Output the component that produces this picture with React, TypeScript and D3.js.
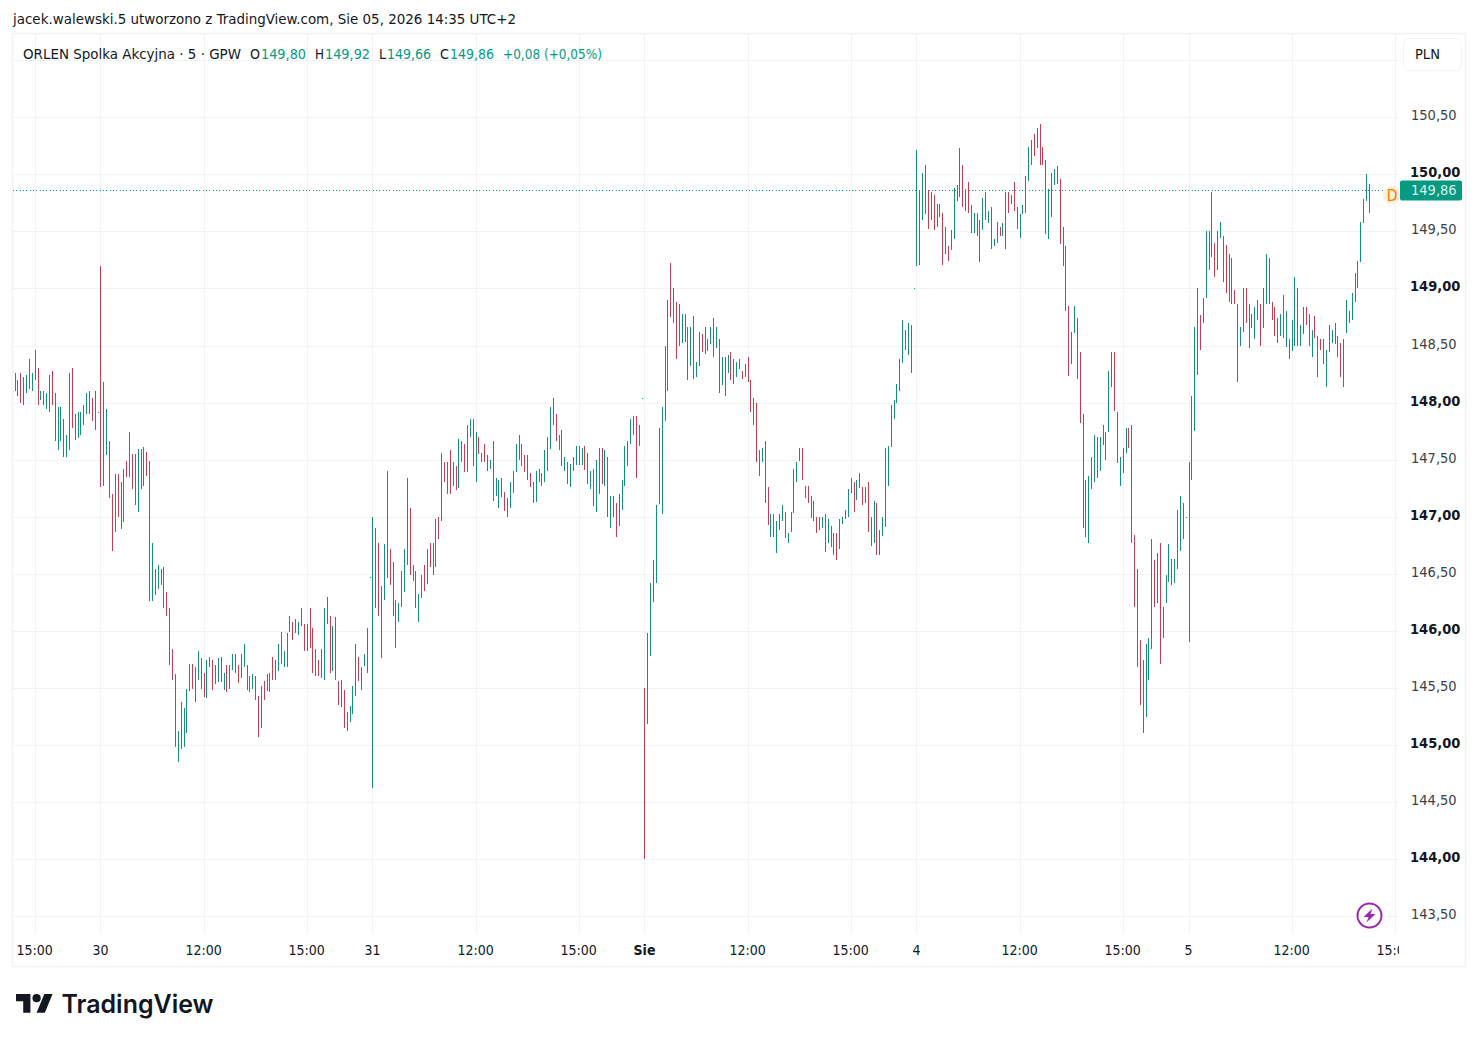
import React, { useRef, useEffect } from "react";
import * as d3 from "d3";

// 5 min bars, left to right
const highs = [
  148.26,148.20,148.26,148.22,148.24,148.38,148.26,148.46,148.30,148.10,
  148.10,148.08,148.24,148.28,148.08,147.96,147.96,147.86,147.72,148.26,
  148.30,147.90,147.92,147.92,147.98,148.08,148.10,148.04,148.10,147.92,
  149.20,148.18,147.94,147.66,147.20,147.37,147.37,147.30,147.42,147.49,
  147.74,147.55,147.55,147.59,147.59,147.61,147.57,147.49,146.77,146.54,
  146.58,146.54,146.56,146.34,146.20,145.84,145.62,145.12,145.38,145.32,
  145.49,145.71,145.71,145.68,145.82,145.76,145.63,145.74,145.77,145.74,
  145.70,145.76,145.77,145.63,145.70,145.70,145.80,145.80,145.70,145.80,
  145.88,145.70,145.60,145.62,145.60,145.43,145.52,145.56,145.62,145.63,
  145.77,145.74,145.88,145.99,145.82,145.98,146.13,146.08,146.10,146.08,
  146.20,146.06,146.06,146.20,146.02,145.84,145.74,145.84,146.20,146.30,
  146.13,146.04,146.12,145.56,145.57,145.48,145.29,145.34,145.52,145.88,
  145.77,145.68,145.80,146.02,146.47,147.00,146.90,146.77,146.39,146.76,
  147.40,146.72,146.60,146.27,146.24,146.52,146.72,147.34,147.08,146.58,
  146.52,146.32,146.49,146.58,146.72,146.77,146.77,146.98,147.00,147.56,
  147.48,147.48,147.58,147.48,147.44,147.68,147.66,147.64,147.80,147.86,
  147.86,147.74,147.70,147.56,147.64,147.54,147.50,147.66,147.34,147.32,
  147.34,147.22,147.16,147.30,147.40,147.64,147.72,147.64,147.54,147.54,
  147.38,147.30,147.40,147.42,147.38,147.58,147.70,147.96,148.04,147.90,
  147.72,147.76,147.52,147.48,147.46,147.52,147.62,147.62,147.60,147.62,
  147.56,147.40,147.42,147.50,147.60,147.60,147.58,147.52,147.18,147.18,
  147.12,147.20,147.32,147.62,147.66,147.86,147.88,147.88,147.80,148.04,
  145.50,145.98,146.42,146.62,147.10,147.78,147.96,148.50,148.90,149.22,
  149.00,148.88,148.86,148.78,148.78,148.66,148.66,148.76,148.36,148.62,
  148.60,148.66,148.56,148.66,148.74,148.66,148.56,148.40,148.40,148.42,
  148.44,148.38,148.36,148.38,148.28,148.34,148.40,148.20,148.04,148.00,
  147.58,147.60,147.66,147.26,147.02,147.02,146.96,147.02,147.10,147.04,
  146.86,147.04,147.42,147.48,147.60,147.60,147.27,147.27,147.18,147.14,
  147.00,147.00,147.00,147.02,146.98,146.92,146.86,146.86,146.98,147.00,
  147.06,147.24,147.34,147.30,147.32,147.38,147.26,147.26,147.30,147.00,
  147.14,147.12,146.88,147.00,147.60,147.62,147.98,148.02,148.16,148.38,
  148.72,148.64,148.70,148.68,149.00,150.21,149.86,150.01,150.08,149.86,
  149.85,149.82,149.74,149.74,149.66,149.54,149.37,149.51,149.88,149.91,
  150.23,150.08,149.87,149.93,149.73,149.66,149.66,149.60,149.79,149.85,
  149.68,149.71,149.43,149.58,149.54,149.57,149.85,149.85,149.82,149.93,
  149.71,149.65,149.73,149.99,150.24,150.30,150.35,150.41,150.44,150.24,
  150.13,149.87,150.01,150.05,150.07,149.96,149.54,149.37,148.85,148.62,
  148.85,148.74,148.44,147.90,147.32,147.36,147.52,147.72,147.70,147.70,
  147.80,147.74,148.28,148.44,148.44,147.92,147.52,147.60,147.78,147.78,
  147.80,146.84,146.54,145.92,145.74,145.88,145.94,146.80,146.62,146.68,
  146.77,146.21,146.49,146.76,146.63,146.63,147.06,147.18,147.12,147.00,
  147.48,148.06,148.66,149.00,148.77,148.92,149.50,149.50,149.85,149.40,
  149.50,149.58,149.46,149.38,149.30,149.27,148.99,148.86,148.66,149.00,
  149.00,148.86,148.78,148.84,148.90,148.86,149.00,149.30,149.27,148.88,
  148.84,148.74,148.78,148.94,148.80,148.56,148.72,149.10,149.00,148.68,
  148.84,148.84,148.78,148.64,148.76,148.58,148.56,148.56,148.46,148.68,
  148.64,148.70,148.58,148.52,148.56,148.90,148.80,148.96,149.14,149.24,
  149.58,149.78,150.00,149.92,
];

const lows = [
  148.10,148.06,148.00,147.98,148.08,148.12,148.10,148.20,147.98,148.02,
  147.98,147.94,147.92,147.98,147.66,147.58,147.66,147.52,147.52,147.58,
  147.78,147.67,147.69,147.72,147.80,147.90,147.90,147.84,147.76,147.92,
  147.26,147.27,147.54,147.16,146.70,146.87,147.00,146.89,146.95,147.35,
  147.35,147.24,147.10,147.04,147.24,147.27,147.36,146.26,146.26,146.31,
  146.37,146.40,146.20,146.13,145.70,145.57,144.98,144.85,144.96,144.98,
  145.10,145.47,145.49,145.38,145.57,145.49,145.42,145.41,145.68,145.48,
  145.53,145.55,145.55,145.48,145.46,145.49,145.66,145.63,145.54,145.59,
  145.68,145.48,145.46,145.49,145.39,145.07,145.15,145.39,145.47,145.46,
  145.57,145.57,145.65,145.71,145.68,145.68,145.99,145.92,145.98,145.96,
  146.04,145.82,145.82,145.85,145.63,145.60,145.60,145.59,145.57,146.06,
  145.63,145.65,145.57,145.35,145.33,145.15,145.12,145.20,145.27,145.43,
  145.56,145.48,145.69,145.63,146.47,144.62,146.20,146.13,145.76,146.27,
  146.46,146.40,146.13,145.85,146.08,146.21,146.34,146.58,146.49,146.44,
  146.20,146.08,146.29,146.35,146.41,146.56,146.49,146.56,146.80,146.96,
  147.30,147.20,147.20,147.27,147.23,147.25,147.48,147.39,147.39,147.70,
  147.44,147.30,147.55,147.48,147.48,147.40,147.42,147.14,147.18,147.08,
  147.17,147.05,147.00,147.08,147.21,147.39,147.50,147.44,147.39,147.32,
  147.26,147.12,147.13,147.30,147.27,147.30,147.40,147.59,147.80,147.66,
  147.58,147.44,147.40,147.29,147.26,147.40,147.45,147.45,147.45,147.41,
  147.29,147.24,147.09,147.04,147.20,147.29,147.27,147.00,146.90,147.00,
  146.82,146.92,147.06,147.27,147.44,147.64,147.72,147.34,147.62,148.04,
  144.00,145.18,145.78,146.25,146.42,147.11,147.02,147.84,148.10,148.75,
  148.70,148.38,148.50,148.52,148.53,148.20,148.32,148.21,148.22,148.32,
  148.44,148.43,148.45,148.51,148.40,148.48,148.08,148.15,148.06,148.26,
  148.20,148.16,148.22,148.29,148.21,148.22,148.18,147.92,147.80,147.48,
  147.36,147.48,147.12,146.93,146.82,146.82,146.68,146.88,146.96,146.81,
  146.77,146.87,147.03,147.30,147.49,147.32,147.16,147.12,146.99,146.96,
  146.86,146.88,146.90,146.69,146.77,146.73,146.66,146.62,146.72,146.94,
  146.98,147.00,147.21,147.04,147.15,147.25,147.10,147.12,146.87,146.74,
  146.77,146.66,146.66,146.83,146.91,147.27,147.61,147.86,148.00,148.10,
  148.35,148.46,148.42,148.26,149.00,149.20,149.21,149.60,149.65,149.52,
  149.60,149.51,149.54,149.63,149.21,149.30,149.24,149.34,149.43,149.77,
  149.80,149.71,149.68,149.66,149.49,149.49,149.46,149.23,149.51,149.60,
  149.57,149.35,149.37,149.40,149.46,149.46,149.35,149.66,149.74,149.68,
  149.52,149.44,149.65,149.66,149.94,150.08,150.16,150.23,150.08,150.08,
  149.48,149.43,149.63,149.91,149.92,149.39,149.20,148.80,148.23,148.34,
  148.61,148.21,147.82,146.90,146.82,146.77,147.24,147.30,147.34,147.40,
  147.63,147.50,147.74,148.14,147.93,147.47,147.27,147.38,147.56,147.60,
  146.77,146.21,145.68,145.35,145.10,145.24,145.57,145.84,146.21,146.24,
  145.71,145.94,146.24,146.43,146.40,146.42,146.54,146.70,146.80,147.00,
  145.90,147.32,147.75,148.24,148.46,148.70,148.92,149.16,149.28,149.10,
  149.16,149.44,149.06,148.96,148.88,148.86,148.86,148.18,148.50,148.62,
  148.70,148.48,148.65,148.56,148.72,148.50,148.65,148.86,148.86,148.72,
  148.58,148.52,148.58,148.57,148.49,148.38,148.45,148.50,148.50,148.50,
  148.60,148.68,148.50,148.40,148.57,148.22,148.46,148.34,148.14,148.44,
  148.52,148.51,148.40,148.22,148.14,148.61,148.70,148.72,148.88,149.00,
  149.23,149.57,149.77,149.66,
];

// g = closed up, r = closed down
const directions = [
  "rgrggrggrg","rggrrggrgg","rrggggrrrg","rggrrgrrgr","grrgrgrrgr",
  "ggrrrrrggg","ggrggrrgrr","rgrgrggrrg","grggrrgrgg","rggggggrgg",
  "grgrrgrggg","rgrrrrgggg","rgggggrrgg","rrrrggggrr","rggrgrggrg",
  "rgrrrggrgg","rgrrrrgrgg","rrggggrrrr","rrggrgggrr","rrgrgggrgr",
  "rgrggrgrgg","rggggggrgg","rggrgggggr","grrgrrgrgg","rgggrgrgrg",
  "rggrrgrrrr","rgrrgrgggr","gggggrrrrg","rggrgrgrgg","gggrgrrgrr",
  "grgggggggg","grgrgggggr","grgrrgrggg","grgrrgrggr","grggrggrgr",
  "rgggggrgrr","rgggrrrrrg","grrrrggggg","rgggrrgggr","rrrrrgggrg",
  "rgggrgggrg","ggggrgggrr","ggrrgrrrgg","rrgggrggrr","rggrgrggrg",
  "grrgrrrrgg","grrrggrggg","gggg",
].join("");

const priceTicks = [151, 150.5, 150, 149.5, 149, 148.5, 148, 147.5, 147, 146.5, 146, 145.5, 145, 144.5, 144, 143.5];
const timeTicks = [
  { bar: 7, label: "15:00" },
  { bar: 30, label: "30" },
  { bar: 66, label: "12:00" },
  { bar: 102, label: "15:00" },
  { bar: 125, label: "31" },
  { bar: 161, label: "12:00" },
  { bar: 197, label: "15:00" },
  { bar: 220, label: "Sie", bold: true },
  { bar: 256, label: "12:00" },
  { bar: 292, label: "15:00" },
  { bar: 315, label: "4" },
  { bar: 351, label: "12:00" },
  { bar: 387, label: "15:00" },
  { bar: 410, label: "5" },
  { bar: 446, label: "12:00" },
  { bar: 482, label: "15:00" },
];
const legendParts = [
  { x: 23, text: "ORLEN Spolka Akcyjna · 5 · GPW", color: "#131722", width: 218 },
  { x: 250, text: "O", color: "#131722", width: 10 },
  { x: 261, text: "149,80", color: "#089981", width: 45 },
  { x: 315, text: "H", color: "#131722", width: 9 },
  { x: 325, text: "149,92", color: "#089981", width: 45 },
  { x: 379, text: "L", color: "#131722", width: 7 },
  { x: 387, text: "149,66", color: "#089981", width: 44 },
  { x: 440, text: "C", color: "#131722", width: 9 },
  { x: 450, text: "149,86", color: "#089981", width: 44 },
  { x: 503, text: "+0,08 (+0,05%)", color: "#089981", width: 99 },
];
const lastPrice = 149.86;

const FONT = "'DejaVu Sans Condensed', 'DejaVu Sans', sans-serif";
const GRID = "#f1f2f4";
const UP = "#12917d";
const DOWN = "#c93c52";

const App: React.FC = () => {
  const ref = useRef<SVGSVGElement | null>(null);

  useEffect(() => {
    const svg = d3.select(ref.current);
    svg.selectAll("*").remove();

    const x = d3.scaleLinear().domain([0, 410]).range([14.6, 1188.5]);
    const y = d3.scaleLinear().domain([143.5, 151]).range([916, 60.3]);
    const snap = (v: number) => Math.round(v) + 0.5;
    const paneRight = 1398;

    svg
      .append("defs")
      .append("clipPath")
      .attr("id", "pane")
      .append("rect")
      .attr("x", 13)
      .attr("y", 34)
      .attr("width", paneRight - 12)
      .attr("height", 932);

    // Frame
    svg
      .append("rect")
      .attr("x", 12.5)
      .attr("y", 33.5)
      .attr("width", 1453)
      .attr("height", 933)
      .attr("fill", "none")
      .attr("stroke", GRID)
      .attr("stroke-width", 1.5);

    // Grid
    svg
      .append("g")
      .selectAll("line")
      .data(priceTicks)
      .enter()
      .append("line")
      .attr("x1", 13)
      .attr("x2", paneRight)
      .attr("y1", (d) => snap(y(d)))
      .attr("y2", (d) => snap(y(d)))
      .attr("stroke", GRID);
    svg
      .append("g")
      .selectAll("line")
      .data(timeTicks)
      .enter()
      .append("line")
      .attr("x1", (d) => snap(x(d.bar)))
      .attr("x2", (d) => snap(x(d.bar)))
      .attr("y1", 34)
      .attr("y2", 933)
      .attr("stroke", GRID);

    // Last price line
    svg
      .append("line")
      .attr("x1", 13)
      .attr("x2", paneRight)
      .attr("y1", snap(y(lastPrice)))
      .attr("y2", snap(y(lastPrice)))
      .attr("stroke", "#089981")
      .attr("shape-rendering", "crispEdges")
      .attr("stroke-dasharray", "1 2.33");

    // Bars
    svg
      .append("g")
      .attr("shape-rendering", "crispEdges")
      .selectAll("line")
      .data(highs)
      .enter()
      .append("line")
      .attr("x1", (_, i) => snap(x(i)))
      .attr("x2", (_, i) => snap(x(i)))
      .attr("y1", (d) => Math.round(y(d)))
      .attr("y2", (d, i) => Math.max(Math.round(y(lows[i])), Math.round(y(d)) + 1))
      .attr("stroke", (_, i) => (directions[i] === "g" ? UP : DOWN));

    // Price axis
    svg
      .append("g")
      .selectAll("text")
      .data(priceTicks.slice(1))
      .enter()
      .append("text")
      .attr("x", (d) => (d % 1 === 0 ? 1410 : 1411))
      .attr("y", (d) => y(d) + 3)
      .attr("fill", (d) => (d % 1 === 0 ? "#131722" : "#3c3f48"))
      .style("font-family", FONT)
      .style("font-size", "14.5px")
      .style("font-weight", (d) => (d % 1 === 0 ? "bold" : "normal"))
      .text((d) => d.toFixed(2).replace(".", ","));

    // Time axis
    svg
      .append("g")
      .attr("clip-path", "url(#pane)")
      .selectAll("text")
      .data(timeTicks)
      .enter()
      .append("text")
      .attr("x", (d) => x(d.bar))
      .attr("y", 955)
      .attr("text-anchor", "middle")
      .attr("fill", "#131722")
      .style("font-family", FONT)
      .style("font-size", "14px")
      .style("font-weight", (d) => (d.bold ? "bold" : "normal"))
      .text((d) => d.label);

    // Last price marker
    svg.append("circle").attr("cx", 1392).attr("cy", 195).attr("r", 9).attr("fill", "#fdeedb");
    svg
      .append("text")
      .attr("x", 1392)
      .attr("y", 200.5)
      .attr("text-anchor", "middle")
      .attr("fill", "#f57c00")
      .style("font-family", FONT)
      .style("font-size", "15.5px")
      .text("D");
    svg
      .append("rect")
      .attr("x", 1400)
      .attr("y", 180.5)
      .attr("width", 62)
      .attr("height", 20)
      .attr("rx", 2)
      .attr("fill", "#089981");
    svg
      .append("text")
      .attr("x", 1411)
      .attr("y", 195)
      .attr("fill", "#d9f2ec")
      .style("font-family", FONT)
      .style("font-size", "14.5px")
      .text(lastPrice.toFixed(2).replace(".", ","));

    // Currency button
    svg
      .append("rect")
      .attr("x", 1403.5)
      .attr("y", 38.5)
      .attr("width", 58)
      .attr("height", 32)
      .attr("rx", 6)
      .attr("fill", "#fff")
      .attr("stroke", GRID);
    svg
      .append("text")
      .attr("x", 1415)
      .attr("y", 59)
      .attr("fill", "#131722")
      .style("font-family", FONT)
      .style("font-size", "14.5px")
      .text("PLN");

    // Header and legend
    svg
      .append("text")
      .attr("x", 13)
      .attr("y", 24)
      .attr("fill", "#131722")
      .attr("textLength", 503)
      .attr("lengthAdjust", "spacingAndGlyphs")
      .style("font-family", FONT)
      .style("font-size", "14.5px")
      .text("jacek.walewski.5 utworzono z TradingView.com, Sie 05, 2026 14:35 UTC+2");
    svg
      .append("g")
      .selectAll("text")
      .data(legendParts)
      .enter()
      .append("text")
      .attr("x", (d) => d.x)
      .attr("y", 59)
      .attr("fill", (d) => d.color)
      .attr("textLength", (d) => d.width)
      .attr("lengthAdjust", "spacingAndGlyphs")
      .style("font-family", FONT)
      .style("font-size", "14.5px")
      .text((d) => d.text);

    // Lightning badge
    const badge = svg.append("g").attr("transform", "translate(1369.5,915.5)");
    badge
      .append("circle")
      .attr("r", 12)
      .attr("fill", "#fff")
      .attr("stroke", "#9c27b0")
      .attr("stroke-width", 2);
    badge.append("path").attr("d", "M3-7L-6 1.5H-1L-3 7L6-1.5H1Z").attr("fill", "#9c27b0");

    // Logo
    const logo = svg.append("g").attr("transform", "translate(16,990) scale(1.03)").attr("fill", "#131722");
    logo.append("path").attr("d", "M14 22H7V11H0V4h14v18zM28 22h-8l7.5-18h8L28 22z");
    logo.append("circle").attr("cx", 20).attr("cy", 8).attr("r", 4);
    svg
      .append("text")
      .attr("x", 61.5)
      .attr("y", 1013)
      .attr("fill", "#131722")
      .attr("textLength", 152)
      .attr("lengthAdjust", "spacingAndGlyphs")
      .style("font-family", "Inter, sans-serif")
      .style("font-size", "25.5px")
      .style("font-weight", 600)
      .text("TradingView");
  }, []);

  return (
    <svg
      ref={ref}
      width={1479}
      height={1042}
      style={{ position: "absolute", left: 0, top: 0, background: "#fff" }}
    />
  );
};

export default App;
